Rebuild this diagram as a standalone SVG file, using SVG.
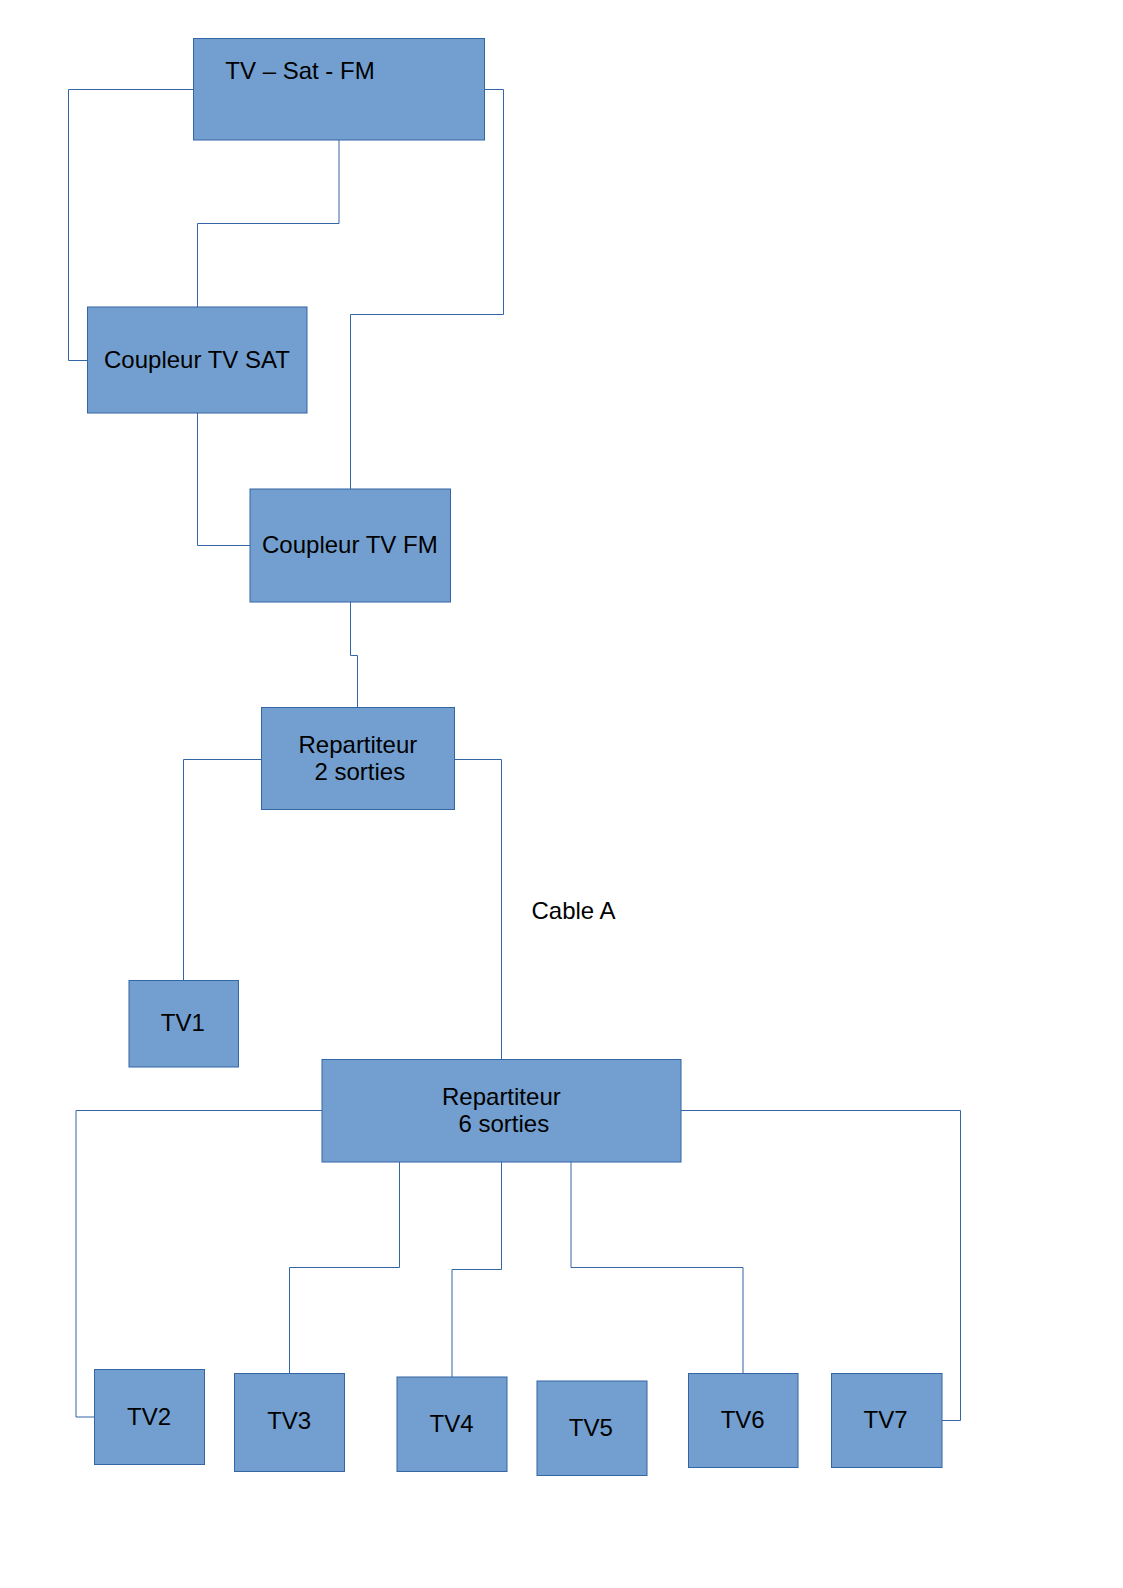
<svg xmlns="http://www.w3.org/2000/svg" width="1123" height="1588" viewBox="0 0 1123 1588">
<style>
.box{fill:#729fcf;stroke:#3465a4;stroke-width:1}
.wire{fill:none;stroke:#3465a4;stroke-width:1}
text{font-family:"Liberation Sans",Arial,sans-serif;font-size:24px;fill:#000}
.c{text-anchor:middle}
</style>
<rect width="1123" height="1588" fill="#ffffff"/>
<g id="connectors">
<path class="wire" d="M193,89.5 H68.5 V360.5 H87.5"/>
<path class="wire" d="M339,140 V223.5 H197.5 V307"/>
<path class="wire" d="M485,89.5 H503.5 V314.5 H350.5 V489"/>
<path class="wire" d="M197.5,413 V545.5 H250"/>
<path class="wire" d="M350.5,602 V655.5 H357.5 V707.5"/>
<path class="wire" d="M261.5,759.5 H183.5 V980.5"/>
<path class="wire" d="M454.5,759.5 H501.5 V1059.5"/>
<path class="wire" d="M322,1110.5 H76 V1417 H94.5"/>
<path class="wire" d="M399.5,1162 V1267.5 H289.5 V1373.5"/>
<path class="wire" d="M501.5,1162 V1269.5 H452 V1377"/>
<path class="wire" d="M571,1162 V1267.5 H743 V1373.5"/>
<path class="wire" d="M681,1110.5 H960.5 V1420.5 H942"/>
</g>
<g id="tv-sat-fm">
<rect class="box" x="193.5" y="38.5" width="291" height="101.5"/>
<text x="225.3" y="79.3">TV – Sat - FM</text>
</g>
<g id="coupleur-sat">
<rect class="box" x="87.5" y="307" width="219.5" height="106"/>
<text x="104" y="367.7">Coupleur TV SAT</text>
</g>
<g id="coupleur-fm">
<rect class="box" x="250" y="489" width="200.5" height="113"/>
<text x="262" y="553.3">Coupleur TV FM</text>
</g>
<g id="repartiteur-2">
<rect class="box" x="261.5" y="707.5" width="193" height="102"/>
<text x="298.5" y="753.3">Repartiteur</text>
<text x="314.5" y="780">2 sorties</text>
</g>
<g id="cable-a">
<text x="531.5" y="919">Cable A</text>
</g>
<g id="tv1">
<rect class="box" x="129" y="980.5" width="109.5" height="86.5"/>
<text class="c" x="182.8" y="1031">TV1</text>
</g>
<g id="repartiteur-6">
<rect class="box" x="322" y="1059.5" width="359" height="102.5"/>
<text x="442" y="1105.3">Repartiteur</text>
<text x="458.5" y="1131.7">6 sorties</text>
</g>
<g id="tv2">
<rect class="box" x="94.5" y="1369.5" width="110" height="95"/>
<text class="c" x="149" y="1425">TV2</text>
</g>
<g id="tv3">
<rect class="box" x="234.5" y="1373.5" width="110" height="98"/>
<text class="c" x="289.2" y="1429.3">TV3</text>
</g>
<g id="tv4">
<rect class="box" x="397" y="1377" width="110" height="94.5"/>
<text class="c" x="451.6" y="1431.7">TV4</text>
</g>
<g id="tv5">
<rect class="box" x="537" y="1381" width="110" height="94.5"/>
<text class="c" x="590.8" y="1436">TV5</text>
</g>
<g id="tv6">
<rect class="box" x="688.5" y="1373.5" width="109.5" height="94"/>
<text class="c" x="742.7" y="1427.7">TV6</text>
</g>
<g id="tv7">
<rect class="box" x="831.5" y="1373.5" width="110.5" height="94"/>
<text class="c" x="885.5" y="1427.7">TV7</text>
</g>
</svg>
